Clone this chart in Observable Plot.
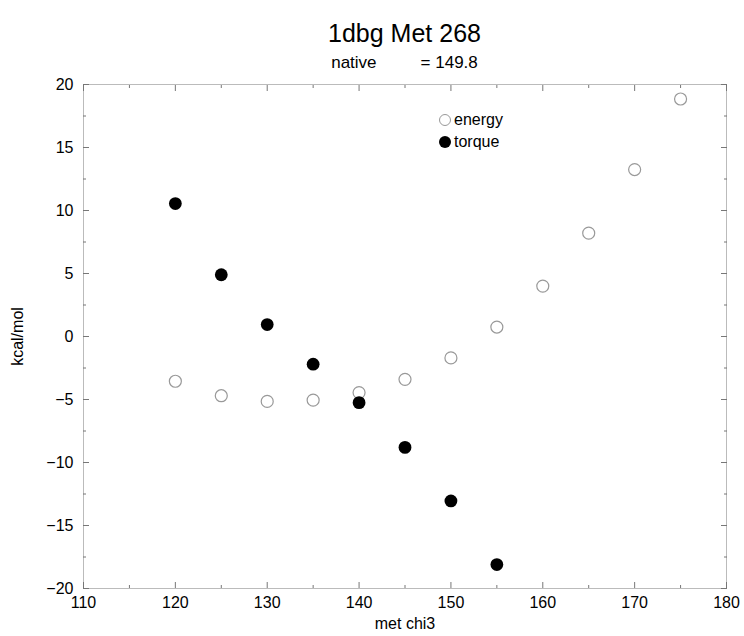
<!DOCTYPE html>
<html>
<head>
<meta charset="utf-8">
<script src="https://cdn.jsdelivr.net/npm/d3@7"></script>
<script src="https://cdn.jsdelivr.net/npm/@observablehq/plot@0.6"></script>
<style>
  html, body { margin: 0; padding: 0; background: #fff; }
  #wrap { position: relative; width: 744px; height: 636px; font-family: "Liberation Sans", Arial, sans-serif; color: #000; }
  #head { position: relative; height: 70px; }
  #title { position: absolute; left: 83px; width: 643px; top: 19px; text-align: center; font-size: 25px; line-height: 28px; }
  #sub { position: absolute; left: 83px; width: 643px; top: 53px; text-align: center; font-size: 17px; line-height: 20px; }
  #sub .gap { display: inline-block; width: 44px; }
  .leg { position: absolute; left: 439px; font-size: 16px; line-height: 18px; display: flex; align-items: center; }
  .leg .sym { width: 12px; height: 12px; border-radius: 50%; box-sizing: border-box; margin-right: 3px; }
  svg { display: block; }
</style>
</head>
<body>
<div id="wrap">
  <div id="head">
    <div id="title">1dbg Met 268</div>
    <div id="sub"><span>native</span><span class="gap"></span><span>= 149.8</span></div>
  </div>
  <div id="chart"></div>
  <div class="leg" style="top:111px"><span class="sym" style="border:1px solid #999;background:#fff"></span><span>energy</span></div>
  <div class="leg" style="top:133px"><span class="sym" style="background:#000"></span><span>torque</span></div>
</div>
<script>
// data
const chi3Energy = [120, 125, 130, 135, 140, 145, 150, 155, 160, 165, 170, 175];
const energy = [-3.55, -4.7, -5.15, -5.05, -4.45, -3.4, -1.7, 0.75, 4.0, 8.2, 13.25, 18.85];
const chi3Torque = [120, 125, 130, 135, 140, 145, 150, 155];
const torque = [10.55, 4.9, 0.95, -2.2, -5.25, -8.8, -13.05, -18.1];

// ticks
const xMajor = [110, 120, 130, 140, 150, 160, 170, 180];
const xMinor = [115, 125, 135, 145, 155, 165, 175];
const yMajor = [-20, -15, -10, -5, 0, 5, 10, 15, 20];
const yMinor = [-17.5, -12.5, -7.5, -2.5, 2.5, 7.5, 12.5, 17.5];

const energyData = chi3Energy.map((x, i) => ({x, y: energy[i]}));
const torqueData = chi3Torque.map((x, i) => ({x, y: torque[i]}));

const tickStroke = "#777";
const inward = (axis, anchor, data, size) =>
  axis(data, {anchor, tickSize: -size, fill: "none", stroke: tickStroke, label: null});

const chart = Plot.plot({
  width: 744,
  height: 566,
  marginTop: 14,
  marginBottom: 48,
  marginLeft: 83,
  marginRight: 18,
  style: {fontFamily: "'Liberation Sans', Arial, sans-serif", fontSize: "16px", background: "#fff", color: "#000"},
  x: {domain: [110, 180]},
  y: {domain: [-20, 20]},
  marks: [
    Plot.frame({stroke: "#bbb"}),
    inward(Plot.axisX, "bottom", xMajor, 6),
    inward(Plot.axisX, "bottom", xMinor, 3),
    inward(Plot.axisX, "top", xMajor, 6),
    inward(Plot.axisX, "top", xMinor, 3),
    inward(Plot.axisY, "left", yMajor, 6),
    inward(Plot.axisY, "left", yMinor, 3),
    inward(Plot.axisY, "right", yMajor, 6),
    inward(Plot.axisY, "right", yMinor, 3),
    Plot.axisX(xMajor, {anchor: "bottom", tickSize: 0, tickPadding: 8, fontSize: 16,
      label: "met chi3", labelAnchor: "center", labelArrow: "none", labelOffset: 40}),
    Plot.axisY(yMajor, {anchor: "left", tickSize: 0, tickPadding: 10, fontSize: 16,
      tickFormat: d => d < 0 ? "\u2212" + Math.abs(d) : String(d),
      label: "kcal/mol", labelAnchor: "center", labelArrow: "none", labelOffset: 72}),
    Plot.dot(energyData, {x: "x", y: "y", r: 6, stroke: "#999", strokeWidth: 1.2, fill: "none"}),
    Plot.dot(torqueData, {x: "x", y: "y", r: 6.4, fill: "#000", stroke: "none"})
  ]
});
document.getElementById("chart").appendChild(chart);
</script>
</body>
</html>
